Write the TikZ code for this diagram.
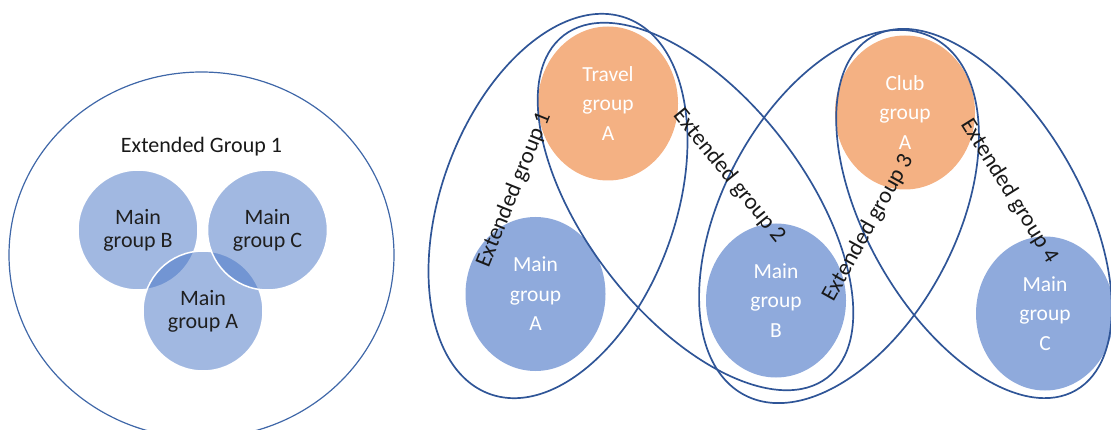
\documentclass[tikz,border=0pt]{standalone}
\usepackage{fontspec}
\setmainfont{Carlito}
\usetikzlibrary{shapes.geometric}
\definecolor{edgeblue}{HTML}{2F5597}
\definecolor{mainblue}{HTML}{8FAADC}
\definecolor{orangefill}{HTML}{F4B183}
\definecolor{venn}{HTML}{4472C4}
\definecolor{outerline}{HTML}{3F67A8}
\begin{document}
\begin{tikzpicture}[x=1pt,y=-1pt,
  venncirc/.style={circle, minimum size=120pt, inner sep=0pt, fill=venn, fill opacity=0.5,
    draw=white, draw opacity=1, line width=1.5pt, text opacity=1, text=black!88,
    align=center, font=\fontsize{22}{23}\selectfont},
  grpnode/.style={ellipse, minimum width=140pt, minimum height=154pt, inner sep=0pt,
    text=white, align=center, font=\fontsize{21.5}{29.5}\selectfont},
  mainnode/.style={grpnode, fill=mainblue},
  orangenode/.style={grpnode, fill=orangefill},
  extnode/.style={ellipse, draw=edgeblue, line width=1.7pt, inner sep=0pt},
  extlabel/.style={inner sep=0pt, text=black!90, font=\fontsize{23}{24}\selectfont},
  toplabel/.style={inner sep=0pt, text=black!90, font=\fontsize{22}{23}\selectfont}]
\useasboundingbox (0,0) rectangle (1111,430);
\clip (0,0) rectangle (1111,430);
% left part
\node[ellipse, draw=outerline, line width=1.2pt, minimum width=385pt, minimum height=366pt, inner sep=0pt] (ext) at (201.5,255) {};
\node[toplabel] (extt) at (201.5,147) {Extended Group 1};
\node[venncirc] (vb) at (138,230) {Main\\group B};
\node[venncirc] (va) at (203,311) {Main\\group A};
\node[venncirc] (vc) at (267.5,230) {Main\\group C};
% right part: groups
\node[orangenode] (ta) at (608,103.5) {Travel\\group\\A};
\node[mainnode] (ma) at (535.5,294) {Main\\group\\A};
\node[mainnode] (mb) at (776,300.5) {Main\\group\\B};
\node[orangenode] (ca) at (905,112.5) {Club\\group\\A};
\node[mainnode, minimum width=138pt] (mc) at (1045,313.5) {Main\\group\\C};
% extended groups
\node[extnode, minimum width=400pt, minimum height=234pt, rotate=70] (e1) at (558,206) {};
\node[extnode, minimum width=432pt, minimum height=219pt, rotate=-52.4] (e2) at (695.5,206.5) {};
\node[extnode, minimum width=404pt, minimum height=233pt, rotate=62] (e3) at (839,216.5) {};
\node[extnode, minimum width=408pt, minimum height=214pt, rotate=-60] (e4) at (974,213.5) {};
% labels
\node[extlabel, rotate=68] (l1) at (514,190) {Extended group 1};
\node[extlabel, rotate=-51] (l2) at (729,176) {Extended group 2};
\node[extlabel, rotate=61] (l3) at (868,228) {Extended group 3};
\node[extlabel, rotate=-58] (l4) at (1009,191) {Extended group 4};
\end{tikzpicture}
\end{document}
